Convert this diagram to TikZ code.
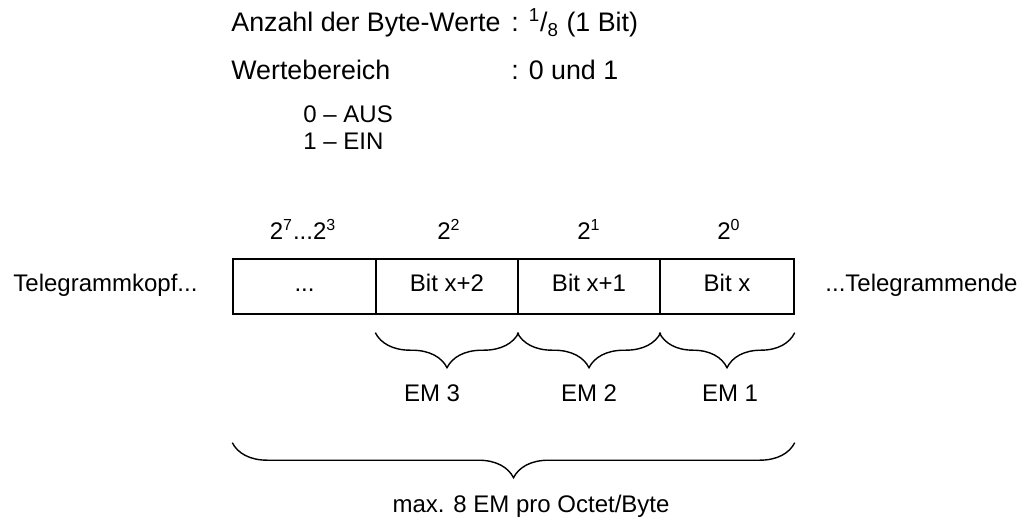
\documentclass[tikz,border=0pt]{standalone}
\usepackage{fontspec}
\setmainfont{Liberation Sans}
\usetikzlibrary{decorations.pathreplacing}

\begin{document}
\begin{tikzpicture}[x=0.5pt, y=-0.5pt, font=\fontsize{12}{14}\selectfont,
  txt/.style={inner sep=0pt, anchor=base west},
  big/.style={txt, font=\fontsize{13.4}{16}\selectfont},
  mid/.style={inner sep=0pt, anchor=base},
  bitbox/.style={draw, line width=0.7pt, minimum width=#1, minimum height=27.5pt,
    inner sep=0pt, text height=8.5pt, text depth=4pt},
  brc/.style={decorate, line width=0.7pt, decoration={brace, mirror, amplitude=17.5pt}}]
\useasboundingbox (0,0) rectangle (1036,518);
\node[big] (anz) at (231,32) {Anzahl der Byte-Werte};
\node[big] (anzval) at (511,32) {: \textsuperscript{1}/\textsubscript{8} (1 Bit)};
\node[big] (wb) at (231,80) {Wertebereich};
\node[big] (wbval) at (511,80) {: 0 und 1};
\node[txt] (aus) at (303,123) {0 -- AUS};
\node[txt] (ein) at (303,150) {1 -- EIN};
\node[bitbox=71.5pt] (b7) at (304.5,286.5) {...};
\node[bitbox=71pt] (b2) at (447,286.5) {Bit x+2};
\node[bitbox=71pt] (b1) at (589,286.5) {Bit x+1};
\node[bitbox=67pt] (b0) at (727,286.5) {Bit x};
\node[mid] (e7) at (303,239) {2\textsuperscript{7}...2\textsuperscript{3}};
\node[mid] (e2) at (449,239) {2\textsuperscript{2}};
\node[mid] (e1) at (589,239) {2\textsuperscript{1}};
\node[mid] (e0) at (729,239) {2\textsuperscript{0}};
\node[txt] (kopf) at (13,291) {Telegrammkopf...};
\node[txt] (ende) at (825,291) {...Telegrammende};
\draw[brc] ([yshift=-9pt]b2.south west) -- ([yshift=-9pt]b2.south east);
\draw[brc] ([yshift=-9pt]b1.south west) -- ([yshift=-9pt]b1.south east);
\draw[brc] ([yshift=-9pt]b0.south west) -- ([yshift=-9pt]b0.south east);
\draw[brc] ([yshift=-64pt]b7.south west) -- ([yshift=-64pt]b0.south east);
\node[mid] (em3) at (432,401) {EM 3};
\node[mid] (em2) at (589,401) {EM 2};
\node[mid] (em1) at (730,401) {EM 1};
\node[mid] (maxem) at (531,512) {max. 8 EM pro Octet/Byte};
\end{tikzpicture}
\end{document}
